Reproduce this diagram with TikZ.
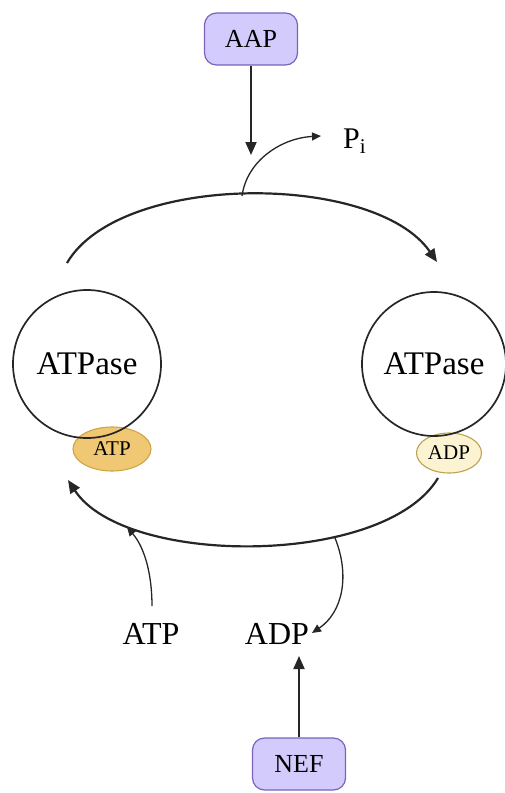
\documentclass[tikz,border=0pt]{standalone}
\usepackage{fontspec}
\setmainfont{Liberation Serif}
\usetikzlibrary{arrows.meta,shapes.geometric}
\definecolor{boxfill}{HTML}{D2CBFB}
\definecolor{boxdraw}{HTML}{7A62BE}
\definecolor{atpfill}{HTML}{F0C873}
\definecolor{atpdraw}{HTML}{CFA448}
\definecolor{adpfill}{HTML}{FBF3D2}
\definecolor{adpdraw}{HTML}{BFA152}
\tikzset{
  regbox/.style={draw=boxdraw, fill=boxfill, line width=1.2pt, rounded corners=12pt,
    minimum width=93pt, minimum height=52pt, font=\fontsize{26}{28}\selectfont, inner sep=0pt},
  enzyme/.style={draw=black!85, line width=1.7pt, circle, minimum size=148pt, inner sep=0pt,
    font=\fontsize{33}{36}\selectfont},
  nucl/.style={ellipse, line width=1.1pt, inner sep=0pt, font=\fontsize{21}{23}\selectfont},
  lbl/.style={font=\fontsize{32}{34}\selectfont, inner sep=0pt},
  mainarrow/.style={draw=black!85, line width=2.2pt, -{Triangle[length=13pt,width=11pt]}},
  thinarrow/.style={draw=black!85, line width=1.3pt, -{Triangle[length=9pt,width=8pt]}},
}
\begin{document}
\begin{tikzpicture}[x=1pt,y=-1pt]
\useasboundingbox (0,0) rectangle (505,793);
% regulators
\node[regbox] (AAP) at (251,39) {AAP};
\node[regbox] (NEF) at (299,764) {NEF};
% nucleotide ellipses (under circles)
\node[nucl, draw=atpdraw, fill=atpfill, minimum width=78pt, minimum height=44pt] (atpE) at (112,449) {ATP};
\node[nucl, draw=adpdraw, fill=adpfill, minimum width=65pt, minimum height=40pt] (adpE) at (449,453) {ADP};
% enzymes
\node[enzyme] (L) at (87,364) {ATPase};
\node[enzyme, minimum size=144pt] (R) at (434,364) {ATPase};
% labels
\node[lbl] (ATPl) at (151,634) {ATP};
\node[lbl] (ADPl) at (277,634) {ADP};
\node[font=\fontsize{30}{32}\selectfont, inner sep=0pt, anchor=base west] (Pi) at (343,148) {P\textsubscript{i}};
% coordinates
\coordinate (tl) at (67,263);
\coordinate (tr) at (437,262);
\coordinate (br) at (438,478);
\coordinate (bl) at (68,480);
\coordinate (aapend) at (251,155);
\coordinate (pistart) at (242,196);
\coordinate (piend) at (321,136);
\coordinate (atpstart) at (152,606);
\coordinate (atpend) at (127,527);
\coordinate (adpstart) at (335,538);
\coordinate (adpend) at (312,633);
\coordinate (nefend) at (299,656);
% cycle arcs
\draw[mainarrow] (tl) .. controls (120,172) and (375,172) .. (tr);
\draw[mainarrow] (br) .. controls (385,567) and (125,567) .. (bl);
% regulator arrows
\draw[mainarrow, line width=1.9pt] (AAP.south) -- (aapend);
\draw[mainarrow, line width=1.9pt] (NEF.north) -- (nefend);
% side arrows
\draw[thinarrow] (pistart) .. controls (247,160) and (282,138) .. (piend);
\draw[thinarrow] (atpstart) .. controls (152,575) and (145,548) .. (atpend);
\draw[thinarrow] (adpstart) .. controls (350,575) and (343,612) .. (adpend);
\end{tikzpicture}
\end{document}
